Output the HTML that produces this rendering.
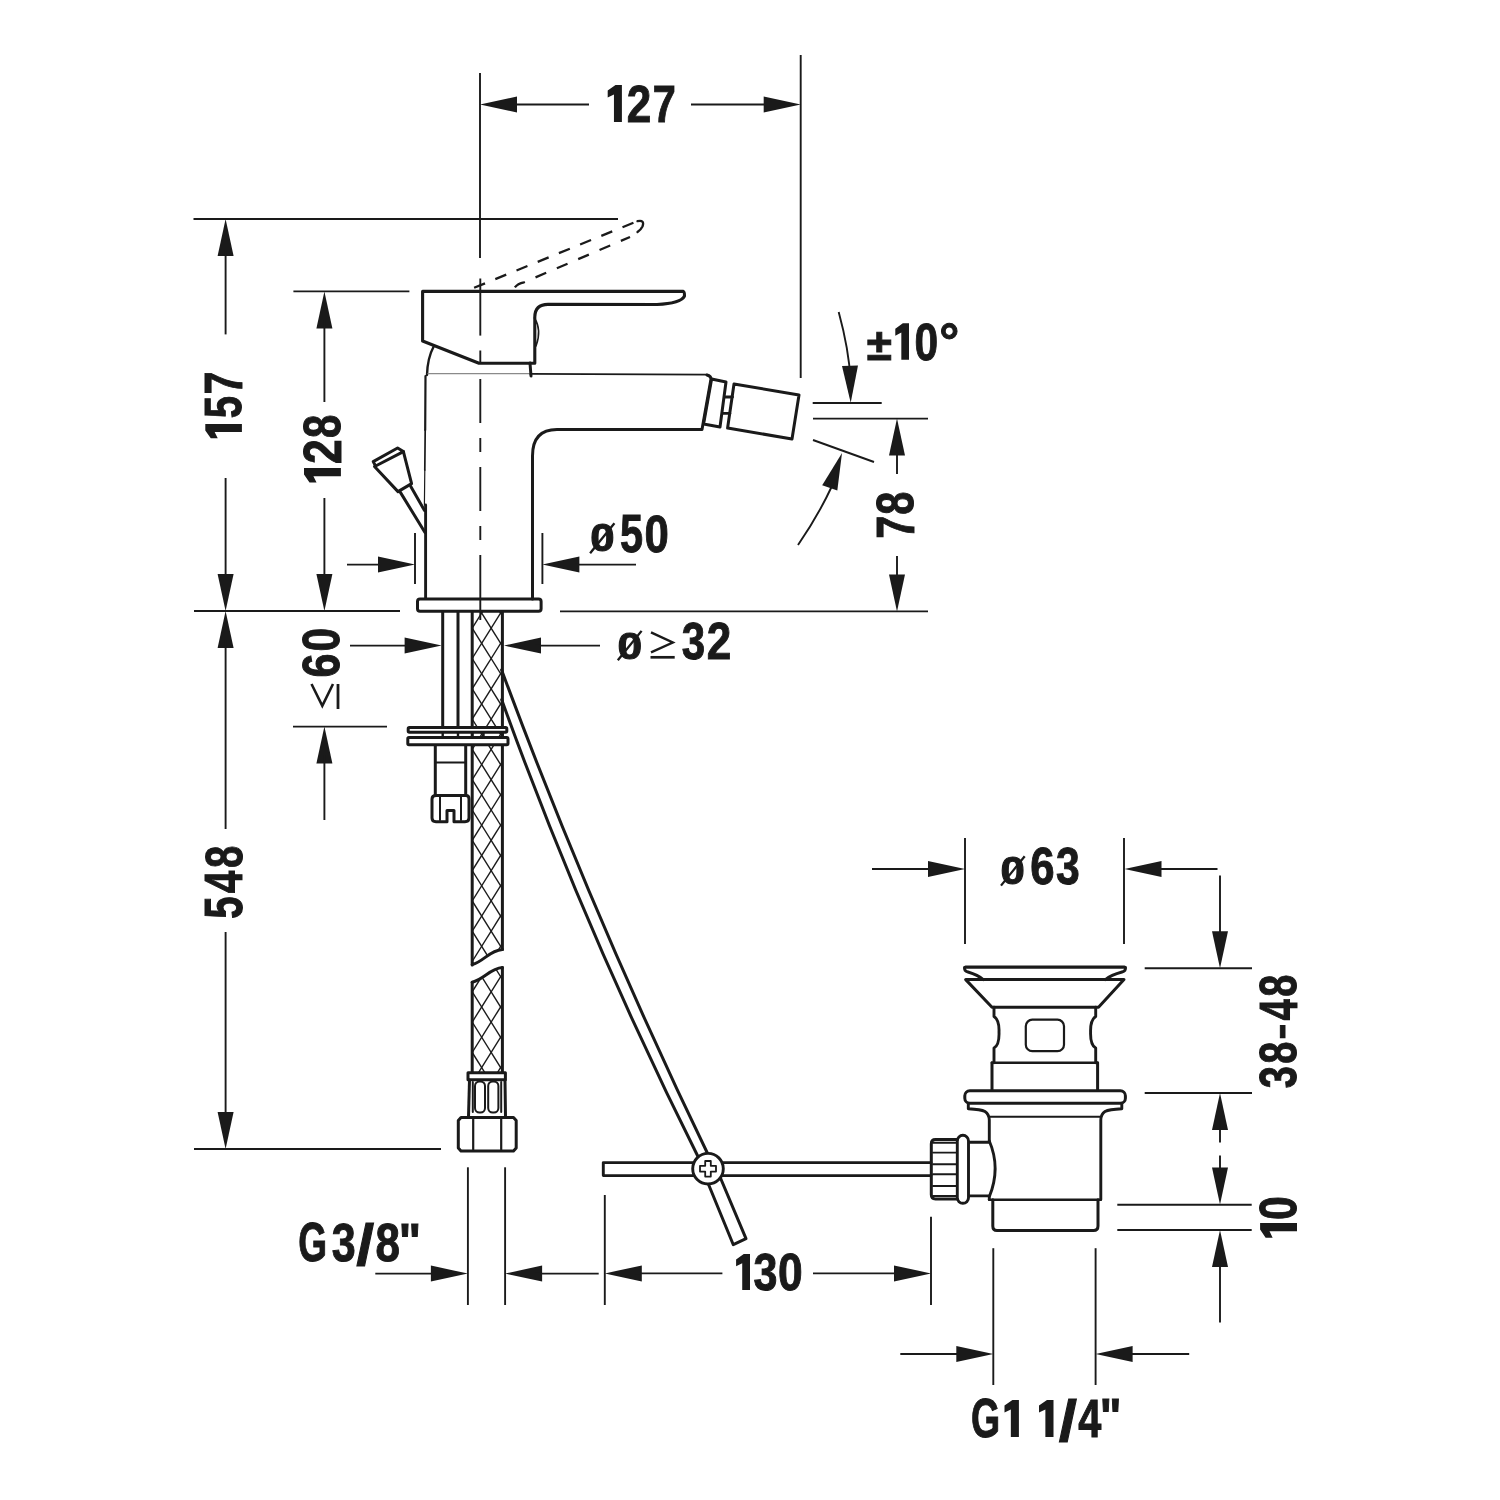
<!DOCTYPE html>
<html><head><meta charset="utf-8"><style>
html,body{margin:0;padding:0;background:#fff;}
svg{display:block;}
text{font-family:"Liberation Sans",sans-serif;font-weight:bold;fill:#1a1a1a;}
svg{will-change:transform;}
</style></head><body>
<svg width="1500" height="1500" viewBox="0 0 1500 1500">
<defs>
<clipPath id="hoseA"><path d="M472.2,612 L502.4,612 L502.4,949.5 C497,949 490,950 482,959.8 C478,963 474,964.6 472.2,964.6 Z"/></clipPath>
<clipPath id="hoseB"><path d="M472.2,982.3 C478,981 484,979 490,973 C495,969 499,967.6 502.4,967.6 L502.4,1072.5 L472.2,1072.5 Z"/></clipPath>
</defs>
<rect width="1500" height="1500" fill="#fff"/>
<g stroke="#1a1a1a" fill="none" stroke-linecap="butt">
<line x1="480.0" y1="73.0" x2="480.0" y2="258.0" stroke-width="1.9" />
<line x1="800.7" y1="55.0" x2="800.7" y2="378.0" stroke-width="1.9" />
<polygon points="480.0,104.5 517.0,96.5 517.0,112.5" fill="#1a1a1a" stroke="none"/>
<line x1="515.0" y1="104.5" x2="589.0" y2="104.5" stroke-width="1.9" />
<polygon points="800.7,104.5 763.7,112.5 763.7,96.5" fill="#1a1a1a" stroke="none"/>
<line x1="691.0" y1="104.5" x2="765.0" y2="104.5" stroke-width="1.9" />
<polygon points="613.95,121.90 621.90,121.90 621.90,85.10 615.51,85.10 607.70,90.62 607.70,97.61 613.95,94.48" fill="#1a1a1a" stroke="none"/>
<text transform="translate(626.68,121.90) scale(0.8431,1)" font-size="52.29">2</text>
<text transform="translate(652.74,121.90) scale(0.7886,1)" font-size="52.61">7</text>
<line x1="193.5" y1="219.0" x2="618.0" y2="219.0" stroke-width="1.9" />
<polygon points="225.6,219.0 233.6,256.0 217.6,256.0" fill="#1a1a1a" stroke="none"/>
<line x1="225.6" y1="250.0" x2="225.6" y2="334.4" stroke-width="1.9" />
<line x1="225.6" y1="478.0" x2="225.6" y2="580.0" stroke-width="1.9" />
<polygon points="225.6,611.0 217.6,574.0 233.6,574.0" fill="#1a1a1a" stroke="none"/>
<polygon points="241.90,431.96 241.90,423.90 205.30,423.90 205.30,430.38 210.79,438.30 217.74,438.30 214.63,431.96" fill="#1a1a1a" stroke="none"/>
<text transform="translate(241.38,418.20) rotate(-90) scale(0.7650,1)" font-size="52.29">5</text>
<text transform="translate(241.90,394.33) rotate(-90) scale(0.7701,1)" font-size="53.04">7</text>
<line x1="293.4" y1="291.4" x2="409.4" y2="291.4" stroke-width="1.9" />
<polygon points="324.4,291.4 332.4,328.4 316.4,328.4" fill="#1a1a1a" stroke="none"/>
<line x1="324.4" y1="320.0" x2="324.4" y2="402.0" stroke-width="1.9" />
<line x1="324.4" y1="498.0" x2="324.4" y2="580.0" stroke-width="1.9" />
<polygon points="324.4,611.0 316.4,574.0 332.4,574.0" fill="#1a1a1a" stroke="none"/>
<polygon points="340.90,476.22 340.90,468.10 304.00,468.10 304.00,474.62 309.53,482.60 316.55,482.60 313.41,476.22" fill="#1a1a1a" stroke="none"/>
<text transform="translate(340.90,463.93) rotate(-90) scale(0.8440,1)" font-size="52.71">2</text>
<text transform="translate(340.38,437.96) rotate(-90) scale(0.8081,1)" font-size="51.97">8</text>
<line x1="194.0" y1="611.0" x2="400.0" y2="611.0" stroke-width="1.9" />
<line x1="560.0" y1="611.4" x2="928.0" y2="611.4" stroke-width="1.9" />
<line x1="415.0" y1="533.0" x2="415.0" y2="584.0" stroke-width="1.9" />
<line x1="542.4" y1="533.0" x2="542.4" y2="584.0" stroke-width="1.9" />
<line x1="347.0" y1="564.6" x2="380.0" y2="564.6" stroke-width="1.9" />
<polygon points="415.0,564.6 378.0,572.6 378.0,556.6" fill="#1a1a1a" stroke="none"/>
<polygon points="542.4,564.6 579.4,556.6 579.4,572.6" fill="#1a1a1a" stroke="none"/>
<line x1="575.0" y1="564.6" x2="636.0" y2="564.6" stroke-width="1.9" />
<text transform="translate(590.15,551.42) scale(1.1505,1)" font-size="38.03">0</text>
<line x1="590.1" y1="553.3" x2="614.4" y2="523.3" stroke="#1a1a1a" stroke-width="2.3"/>
<text transform="translate(620.06,551.57) scale(0.7790,1)" font-size="53.14">5</text>
<text transform="translate(644.45,551.58) scale(0.8350,1)" font-size="52.39">0</text>
<path d="M838.7,312 Q849,350 850.5,380" stroke-width="1.9" fill="none" />
<polygon points="850.7,402.7 842.0,365.9 858.0,365.5" fill="#1a1a1a" stroke="none"/>
<line x1="812.7" y1="403.0" x2="881.7" y2="403.0" stroke-width="1.9" />
<line x1="813.0" y1="418.6" x2="928.0" y2="418.6" stroke-width="1.9" />
<line x1="813.0" y1="440.0" x2="874.0" y2="462.0" stroke-width="1.9" />
<path d="M798,545 Q818,516 832,486" stroke-width="1.9" fill="none" />
<polygon points="842.0,453.0 837.3,490.6 822.2,485.3" fill="#1a1a1a" stroke="none"/>
<text transform="translate(866.79,360.30) scale(1.0491,1)" font-size="43.55">±</text>
<polygon points="901.33,359.70 909.00,359.70 909.00,323.30 902.84,323.30 895.30,328.76 895.30,335.68 901.33,332.58" fill="#1a1a1a" stroke="none"/>
<text transform="translate(914.60,359.77) scale(0.8090,1)" font-size="52.54">0</text>
<text transform="translate(939.30,358.45) scale(0.9873,1)" font-size="50.65">°</text>
<polygon points="897.0,418.6 905.0,455.6 889.0,455.6" fill="#1a1a1a" stroke="none"/>
<line x1="897.0" y1="450.0" x2="897.0" y2="474.0" stroke-width="1.9" />
<line x1="897.0" y1="556.0" x2="897.0" y2="580.0" stroke-width="1.9" />
<polygon points="897.0,611.4 889.0,574.4 905.0,574.4" fill="#1a1a1a" stroke="none"/>
<text transform="translate(913.80,538.65) rotate(-90) scale(0.7739,1)" font-size="53.33">7</text>
<text transform="translate(913.28,514.85) rotate(-90) scale(0.8026,1)" font-size="51.83">8</text>
<line x1="350.0" y1="645.6" x2="410.0" y2="645.6" stroke-width="1.9" />
<polygon points="441.6,645.6 404.6,653.6 404.6,637.6" fill="#1a1a1a" stroke="none"/>
<polygon points="504.0,645.6 541.0,637.6 541.0,653.6" fill="#1a1a1a" stroke="none"/>
<line x1="535.0" y1="645.6" x2="600.0" y2="645.6" stroke-width="1.9" />
<text transform="translate(617.43,658.72) scale(1.1756,1)" font-size="37.75">0</text>
<line x1="617.8" y1="660.3" x2="641.6" y2="630.9" stroke="#1a1a1a" stroke-width="2.3"/>
<text transform="translate(681.76,658.68) scale(0.8016,1)" font-size="52.39">3</text>
<text transform="translate(706.68,658.60) scale(0.8431,1)" font-size="52.29">2</text>
<polyline points="651.0,632.3 672.8,642.5 651.0,652.3" stroke-width="2.4" fill="none" />
<line x1="650.5" y1="657.3" x2="674.7" y2="657.3" stroke-width="2.7" />
<text transform="translate(338.77,677.43) rotate(-90) scale(0.8209,1)" font-size="52.54">6</text>
<text transform="translate(338.77,651.40) rotate(-90) scale(0.8090,1)" font-size="52.54">0</text>
<polyline points="311.5,684.0 322.3,705.8 333.0,684.0" stroke-width="2.6" fill="none" />
<line x1="338.0" y1="684.0" x2="338.0" y2="709.0" stroke-width="2.8" />
<line x1="293.0" y1="726.6" x2="387.0" y2="726.6" stroke-width="1.9" />
<polygon points="324.4,726.6 332.4,763.6 316.4,763.6" fill="#1a1a1a" stroke="none"/>
<line x1="324.4" y1="755.0" x2="324.4" y2="820.0" stroke-width="1.9" />
<polygon points="225.6,611.0 233.6,648.0 217.6,648.0" fill="#1a1a1a" stroke="none"/>
<line x1="225.6" y1="640.0" x2="225.6" y2="829.0" stroke-width="1.9" />
<line x1="225.6" y1="932.0" x2="225.6" y2="1120.0" stroke-width="1.9" />
<polygon points="225.6,1149.0 217.6,1112.0 233.6,1112.0" fill="#1a1a1a" stroke="none"/>
<line x1="194.0" y1="1149.0" x2="441.0" y2="1149.0" stroke-width="1.9" />
<text transform="translate(241.77,918.81) rotate(-90) scale(0.7626,1)" font-size="52.71">5</text>
<text transform="translate(242.30,893.21) rotate(-90) scale(0.7586,1)" font-size="53.48">4</text>
<text transform="translate(241.78,867.91) rotate(-90) scale(0.7735,1)" font-size="51.97">8</text>
<line x1="467.9" y1="1167.3" x2="467.9" y2="1305.0" stroke-width="1.9" />
<line x1="505.1" y1="1167.3" x2="505.1" y2="1305.0" stroke-width="1.9" />
<line x1="375.3" y1="1273.6" x2="440.0" y2="1273.6" stroke-width="1.9" />
<polygon points="467.9,1273.6 430.9,1281.6 430.9,1265.6" fill="#1a1a1a" stroke="none"/>
<polygon points="505.1,1273.6 542.1,1265.6 542.1,1281.6" fill="#1a1a1a" stroke="none"/>
<line x1="535.0" y1="1273.6" x2="598.7" y2="1273.6" stroke-width="1.9" />
<text transform="translate(298.32,1261.05) scale(0.6747,1)" font-size="54.93">G</text>
<text transform="translate(331.64,1260.97) scale(0.8141,1)" font-size="52.82">3</text>
<text transform="translate(356.15,1264.85) scale(1.1251,1)" font-size="57.43">/</text>
<text transform="translate(375.48,1260.97) scale(0.8331,1)" font-size="52.82">8</text>
<text transform="translate(398.71,1258.78) scale(0.9337,1)" font-size="50.40">"</text>
<line x1="604.8" y1="1195.0" x2="604.8" y2="1305.0" stroke-width="1.9" />
<line x1="931.0" y1="1216.8" x2="931.0" y2="1305.0" stroke-width="1.9" />
<polygon points="604.8,1273.4 641.8,1265.4 641.8,1281.4" fill="#1a1a1a" stroke="none"/>
<line x1="635.0" y1="1273.4" x2="722.4" y2="1273.4" stroke-width="1.9" />
<line x1="813.0" y1="1273.4" x2="900.0" y2="1273.4" stroke-width="1.9" />
<polygon points="931.0,1273.4 894.0,1281.4 894.0,1265.4" fill="#1a1a1a" stroke="none"/>
<polygon points="742.22,1290.00 750.00,1290.00 750.00,1254.10 743.75,1254.10 736.10,1259.48 736.10,1266.31 742.22,1263.25" fill="#1a1a1a" stroke="none"/>
<text transform="translate(753.44,1290.08) scale(0.8296,1)" font-size="51.83">3</text>
<text transform="translate(778.12,1290.08) scale(0.8561,1)" font-size="51.83">0</text>
<line x1="965.0" y1="838.0" x2="965.0" y2="944.0" stroke-width="1.9" />
<line x1="1124.0" y1="838.0" x2="1124.0" y2="944.0" stroke-width="1.9" />
<line x1="872.0" y1="869.0" x2="935.0" y2="869.0" stroke-width="1.9" />
<polygon points="965.0,869.0 928.0,877.0 928.0,861.0" fill="#1a1a1a" stroke="none"/>
<polygon points="1124.5,869.0 1161.5,861.0 1161.5,877.0" fill="#1a1a1a" stroke="none"/>
<line x1="1155.0" y1="869.0" x2="1217.5" y2="869.0" stroke-width="1.9" />
<text transform="translate(1000.45,884.02) scale(1.1505,1)" font-size="38.03">0</text>
<line x1="1001" y1="885.6" x2="1024.7" y2="856.2" stroke="#1a1a1a" stroke-width="2.3"/>
<text transform="translate(1030.15,884.18) scale(0.8350,1)" font-size="52.39">6</text>
<text transform="translate(1055.95,884.18) scale(0.8131,1)" font-size="52.39">3</text>
<line x1="1220.0" y1="875.5" x2="1220.0" y2="940.0" stroke-width="1.9" />
<polygon points="1220.0,968.2 1212.0,931.2 1228.0,931.2" fill="#1a1a1a" stroke="none"/>
<line x1="1144.7" y1="968.2" x2="1252.0" y2="968.2" stroke-width="1.9" />
<line x1="1144.7" y1="1093.0" x2="1252.0" y2="1093.0" stroke-width="1.9" />
<polygon points="1220.0,1093.0 1228.0,1130.0 1212.0,1130.0" fill="#1a1a1a" stroke="none"/>
<line x1="1220.0" y1="1120.0" x2="1220.0" y2="1142.4" stroke-width="1.9" />
<line x1="1220.0" y1="1155.4" x2="1220.0" y2="1175.0" stroke-width="1.9" />
<polygon points="1220.0,1204.5 1212.0,1167.5 1228.0,1167.5" fill="#1a1a1a" stroke="none"/>
<text transform="translate(1296.48,1088.30) rotate(-90) scale(0.7679,1)" font-size="51.83">3</text>
<text transform="translate(1296.48,1063.69) rotate(-90) scale(0.7679,1)" font-size="51.83">8</text>
<text transform="translate(1292.53,1039.40) rotate(-90) scale(1.2153,1)" font-size="39.17">-</text>
<text transform="translate(1297.00,1020.47) rotate(-90) scale(0.7182,1)" font-size="53.33">4</text>
<text transform="translate(1296.48,996.69) rotate(-90) scale(0.7679,1)" font-size="51.83">8</text>
<line x1="1117.3" y1="1204.8" x2="1251.7" y2="1204.8" stroke-width="1.9" />
<line x1="1117.3" y1="1230.0" x2="1251.7" y2="1230.0" stroke-width="1.9" />
<polygon points="1220.0,1230.0 1228.0,1267.0 1212.0,1267.0" fill="#1a1a1a" stroke="none"/>
<line x1="1220.0" y1="1260.0" x2="1220.0" y2="1322.6" stroke-width="1.9" />
<polygon points="1297.00,1231.23 1297.00,1223.00 1260.10,1223.00 1260.10,1229.62 1265.63,1237.70 1272.65,1237.70 1269.51,1231.23" fill="#1a1a1a" stroke="none"/>
<text transform="translate(1296.48,1220.11) rotate(-90) scale(0.8218,1)" font-size="51.97">0</text>
<line x1="993.3" y1="1248.2" x2="993.3" y2="1385.0" stroke-width="1.9" />
<line x1="1095.6" y1="1248.2" x2="1095.6" y2="1385.0" stroke-width="1.9" />
<line x1="900.3" y1="1354.0" x2="960.0" y2="1354.0" stroke-width="1.9" />
<polygon points="993.3,1354.0 956.3,1362.0 956.3,1346.0" fill="#1a1a1a" stroke="none"/>
<polygon points="1095.6,1354.0 1132.6,1346.0 1132.6,1362.0" fill="#1a1a1a" stroke="none"/>
<line x1="1130.0" y1="1354.0" x2="1189.2" y2="1354.0" stroke-width="1.9" />
<text transform="translate(971.00,1437.25) scale(0.6775,1)" font-size="55.35">G</text>
<polygon points="1010.84,1437.00 1018.90,1437.00 1018.90,1400.00 1012.42,1400.00 1004.50,1405.55 1004.50,1412.58 1010.84,1409.43" fill="#1a1a1a" stroke="none"/>
<polygon points="1045.38,1437.00 1053.50,1437.00 1053.50,1400.00 1046.97,1400.00 1039.00,1405.55 1039.00,1412.58 1045.38,1409.43" fill="#1a1a1a" stroke="none"/>
<text transform="translate(1058.74,1440.55) scale(1.1398,1)" font-size="57.70">/</text>
<text transform="translate(1078.17,1437.00) scale(0.7741,1)" font-size="53.62">4</text>
<text transform="translate(1099.79,1434.22) scale(0.9250,1)" font-size="49.60">"</text>
<line x1="480.3" y1="278.5" x2="480.3" y2="335.6" stroke-width="1.9" />
<line x1="480.3" y1="350.5" x2="480.3" y2="363.3" stroke-width="1.9" />
<line x1="480.3" y1="379.0" x2="480.3" y2="423.0" stroke-width="1.9" />
<line x1="480.3" y1="438.0" x2="480.3" y2="452.0" stroke-width="1.9" />
<line x1="480.3" y1="467.0" x2="480.3" y2="511.0" stroke-width="1.9" />
<line x1="480.3" y1="526.0" x2="480.3" y2="540.0" stroke-width="1.9" />
<line x1="480.3" y1="555.0" x2="480.3" y2="620.0" stroke-width="1.9" />
</g>
<g stroke="#1a1a1a" stroke-width="1.4" clip-path="url(#hoseA)">
<line x1="472.2" y1="507.0" x2="502.4" y2="555.3"/>
<line x1="472.2" y1="507.0" x2="502.4" y2="458.7"/>
<line x1="472.2" y1="537.3" x2="502.4" y2="585.6"/>
<line x1="472.2" y1="537.3" x2="502.4" y2="489.0"/>
<line x1="472.2" y1="567.6" x2="502.4" y2="615.9"/>
<line x1="472.2" y1="567.6" x2="502.4" y2="519.3"/>
<line x1="472.2" y1="597.9" x2="502.4" y2="646.2"/>
<line x1="472.2" y1="597.9" x2="502.4" y2="549.6"/>
<line x1="472.2" y1="628.2" x2="502.4" y2="676.5"/>
<line x1="472.2" y1="628.2" x2="502.4" y2="579.9"/>
<line x1="472.2" y1="658.5" x2="502.4" y2="706.8"/>
<line x1="472.2" y1="658.5" x2="502.4" y2="610.2"/>
<line x1="472.2" y1="688.8" x2="502.4" y2="737.1"/>
<line x1="472.2" y1="688.8" x2="502.4" y2="640.5"/>
<line x1="472.2" y1="719.1" x2="502.4" y2="767.4"/>
<line x1="472.2" y1="719.1" x2="502.4" y2="670.8"/>
<line x1="472.2" y1="749.4" x2="502.4" y2="797.7"/>
<line x1="472.2" y1="749.4" x2="502.4" y2="701.1"/>
<line x1="472.2" y1="779.7" x2="502.4" y2="828.0"/>
<line x1="472.2" y1="779.7" x2="502.4" y2="731.4"/>
<line x1="472.2" y1="810.0" x2="502.4" y2="858.3"/>
<line x1="472.2" y1="810.0" x2="502.4" y2="761.7"/>
<line x1="472.2" y1="840.3" x2="502.4" y2="888.6"/>
<line x1="472.2" y1="840.3" x2="502.4" y2="792.0"/>
<line x1="472.2" y1="870.6" x2="502.4" y2="918.9"/>
<line x1="472.2" y1="870.6" x2="502.4" y2="822.3"/>
<line x1="472.2" y1="900.9" x2="502.4" y2="949.2"/>
<line x1="472.2" y1="900.9" x2="502.4" y2="852.6"/>
<line x1="472.2" y1="931.2" x2="502.4" y2="979.5"/>
<line x1="472.2" y1="931.2" x2="502.4" y2="882.9"/>
<line x1="472.2" y1="961.5" x2="502.4" y2="1009.8"/>
<line x1="472.2" y1="961.5" x2="502.4" y2="913.2"/>
<line x1="472.2" y1="991.8" x2="502.4" y2="1040.1"/>
<line x1="472.2" y1="991.8" x2="502.4" y2="943.5"/>
<line x1="472.2" y1="1022.1" x2="502.4" y2="1070.4"/>
<line x1="472.2" y1="1022.1" x2="502.4" y2="973.8"/>
<line x1="472.2" y1="1052.4" x2="502.4" y2="1100.7"/>
<line x1="472.2" y1="1052.4" x2="502.4" y2="1004.1"/>
<line x1="472.2" y1="1082.7" x2="502.4" y2="1131.0"/>
<line x1="472.2" y1="1082.7" x2="502.4" y2="1034.4"/>
<line x1="472.2" y1="1113.0" x2="502.4" y2="1161.3"/>
<line x1="472.2" y1="1113.0" x2="502.4" y2="1064.7"/>
<line x1="472.2" y1="1143.3" x2="502.4" y2="1191.6"/>
<line x1="472.2" y1="1143.3" x2="502.4" y2="1095.0"/>
</g>
<g stroke="#1a1a1a" stroke-width="1.4" clip-path="url(#hoseB)">
<line x1="472.2" y1="507.0" x2="502.4" y2="555.3"/>
<line x1="472.2" y1="507.0" x2="502.4" y2="458.7"/>
<line x1="472.2" y1="537.3" x2="502.4" y2="585.6"/>
<line x1="472.2" y1="537.3" x2="502.4" y2="489.0"/>
<line x1="472.2" y1="567.6" x2="502.4" y2="615.9"/>
<line x1="472.2" y1="567.6" x2="502.4" y2="519.3"/>
<line x1="472.2" y1="597.9" x2="502.4" y2="646.2"/>
<line x1="472.2" y1="597.9" x2="502.4" y2="549.6"/>
<line x1="472.2" y1="628.2" x2="502.4" y2="676.5"/>
<line x1="472.2" y1="628.2" x2="502.4" y2="579.9"/>
<line x1="472.2" y1="658.5" x2="502.4" y2="706.8"/>
<line x1="472.2" y1="658.5" x2="502.4" y2="610.2"/>
<line x1="472.2" y1="688.8" x2="502.4" y2="737.1"/>
<line x1="472.2" y1="688.8" x2="502.4" y2="640.5"/>
<line x1="472.2" y1="719.1" x2="502.4" y2="767.4"/>
<line x1="472.2" y1="719.1" x2="502.4" y2="670.8"/>
<line x1="472.2" y1="749.4" x2="502.4" y2="797.7"/>
<line x1="472.2" y1="749.4" x2="502.4" y2="701.1"/>
<line x1="472.2" y1="779.7" x2="502.4" y2="828.0"/>
<line x1="472.2" y1="779.7" x2="502.4" y2="731.4"/>
<line x1="472.2" y1="810.0" x2="502.4" y2="858.3"/>
<line x1="472.2" y1="810.0" x2="502.4" y2="761.7"/>
<line x1="472.2" y1="840.3" x2="502.4" y2="888.6"/>
<line x1="472.2" y1="840.3" x2="502.4" y2="792.0"/>
<line x1="472.2" y1="870.6" x2="502.4" y2="918.9"/>
<line x1="472.2" y1="870.6" x2="502.4" y2="822.3"/>
<line x1="472.2" y1="900.9" x2="502.4" y2="949.2"/>
<line x1="472.2" y1="900.9" x2="502.4" y2="852.6"/>
<line x1="472.2" y1="931.2" x2="502.4" y2="979.5"/>
<line x1="472.2" y1="931.2" x2="502.4" y2="882.9"/>
<line x1="472.2" y1="961.5" x2="502.4" y2="1009.8"/>
<line x1="472.2" y1="961.5" x2="502.4" y2="913.2"/>
<line x1="472.2" y1="991.8" x2="502.4" y2="1040.1"/>
<line x1="472.2" y1="991.8" x2="502.4" y2="943.5"/>
<line x1="472.2" y1="1022.1" x2="502.4" y2="1070.4"/>
<line x1="472.2" y1="1022.1" x2="502.4" y2="973.8"/>
<line x1="472.2" y1="1052.4" x2="502.4" y2="1100.7"/>
<line x1="472.2" y1="1052.4" x2="502.4" y2="1004.1"/>
<line x1="472.2" y1="1082.7" x2="502.4" y2="1131.0"/>
<line x1="472.2" y1="1082.7" x2="502.4" y2="1034.4"/>
<line x1="472.2" y1="1113.0" x2="502.4" y2="1161.3"/>
<line x1="472.2" y1="1113.0" x2="502.4" y2="1064.7"/>
<line x1="472.2" y1="1143.3" x2="502.4" y2="1191.6"/>
<line x1="472.2" y1="1143.3" x2="502.4" y2="1095.0"/>
</g>
<g stroke="#1a1a1a" fill="none" stroke-linejoin="round" stroke-linecap="round">
<path d="M422.6,291.4 L683.3,291.4 Q684.7,292 684.4,296.3 Q680.5,303.6 657,304.5 L548,304.4 Q535,304.4 534.8,317 L534.8,363.3 L479,363.3 L422.6,341 Z" stroke-width="3.1" fill="none" />
<path d="M534.4,318 Q542,330 536,346" stroke-width="1.6" fill="none" />
<path d="M637.5,221.2 Q645,219.5 642.5,226.5 Q641,229.5 637.5,232" stroke-width="2.3" fill="none" />
<path d="M468,290.3 L636,221.7" stroke-width="2.3" fill="none" stroke-dasharray="11.8,11.1" stroke-dashoffset="16.3" stroke-linecap="butt"/>
<path d="M513.3,291 Q515,284 524,282.3 L630,237" stroke-width="2.3" fill="none" stroke-dasharray="11.6,11.6" stroke-dashoffset="19.4" stroke-linecap="butt"/>
<path d="M433.8,346.3 Q427.5,358 427,375" stroke-width="2.4" fill="none" />
<line x1="425.5" y1="376.0" x2="425.2" y2="430.0" stroke-width="2.2" />
<line x1="425.2" y1="430.0" x2="424.8" y2="470.0" stroke-width="1.7" />
<line x1="424.8" y1="470.0" x2="424.4" y2="505.0" stroke-width="1.2" />
<line x1="425.6" y1="505.0" x2="425.6" y2="598.0" stroke-width="2.9" />
<line x1="530.0" y1="363.0" x2="531.0" y2="376.0" stroke-width="3.0" />
<line x1="428.0" y1="373.6" x2="530.0" y2="373.6" stroke-width="1.3" stroke="#8a8a8a"/>
<line x1="530.0" y1="373.8" x2="707.0" y2="374.6" stroke-width="1.8" />
<path d="M707,375 Q711,376 711,379 L702,429.6 L557,429.6 Q532.5,429.6 532.5,456 L532.5,599" stroke-width="3.0" fill="none" />
<polygon points="711.6,379.0 726.0,382.0 720.0,427.0 703.6,424.0" stroke-width="3.0" fill="none" />
<line x1="725.5" y1="397.0" x2="732.5" y2="397.0" stroke-width="2.9" />
<line x1="722.8" y1="413.4" x2="729.8" y2="413.4" stroke-width="2.9" />
<polygon points="734.0,384.0 799.0,395.0 792.0,439.0 727.6,428.0" stroke-width="3.0" fill="none" />
<rect x="417.5" y="598.9" width="123.6" height="12.3" rx="2.5" stroke-width="3" fill="none"/>
<line x1="442.7" y1="612.0" x2="442.7" y2="727.0" stroke-width="3.0" />
<line x1="458.0" y1="612.0" x2="458.0" y2="727.0" stroke-width="3.0" />
<line x1="472.2" y1="612.0" x2="472.2" y2="965.0" stroke-width="3.0" />
<line x1="502.4" y1="612.0" x2="502.4" y2="949.5" stroke-width="3.0" />
<rect x="408.2" y="727.6" width="98.6" height="4.6" rx="1.2" stroke-width="3.0" fill="#fff"/>
<rect x="407.8" y="737.6" width="100.2" height="7.2" rx="1.2" stroke-width="3.0" fill="#fff"/>
<line x1="442.7" y1="733.0" x2="442.7" y2="737.0" stroke-width="2.4" />
<line x1="458.0" y1="733.0" x2="458.0" y2="737.0" stroke-width="2.4" />
<line x1="472.2" y1="733.0" x2="472.2" y2="737.0" stroke-width="2.4" />
<line x1="483.5" y1="733.0" x2="483.5" y2="737.0" stroke-width="2.4" />
<line x1="502.4" y1="733.0" x2="502.4" y2="737.0" stroke-width="2.4" />
<line x1="435.3" y1="746.0" x2="435.3" y2="795.0" stroke-width="3.0" />
<line x1="465.7" y1="746.0" x2="465.7" y2="795.0" stroke-width="3.0" />
<line x1="435.3" y1="762.5" x2="465.7" y2="762.5" stroke-width="2.2" />
<path d="M432,799 Q432,795.5 436,795.5 L466,795.5 Q469,795.5 469,799 L469,818 Q469,821.7 465,821.7 L454,821.7 L454,810.5 L447,810.5 L447,821.7 L436,821.7 Q432,821.7 432,818 Z" stroke-width="3.0" fill="none" />
<line x1="440.0" y1="797.0" x2="440.0" y2="820.0" stroke-width="2" />
<line x1="461.0" y1="797.0" x2="461.0" y2="820.0" stroke-width="2" />
<polygon points="373.2,461.6 397.6,448.0 403.4,451.6 375.6,466.0" stroke-width="3.0" fill="none" />
<polyline points="374.5,466.5 398.0,491.6 411.6,483.6 403.4,451.6" stroke-width="3.0" fill="none" />
<line x1="400.4" y1="492.4" x2="425.0" y2="532.5" stroke-width="3.0" />
<line x1="410.8" y1="486.4" x2="424.5" y2="510.5" stroke-width="3.0" />
<path d="M472.2,964.6 C484,961.5 489,950.5 502.4,949.5" stroke-width="3.0" fill="none" />
<path d="M472.2,982.3 C484,979.5 490,968.5 502.4,967.6" stroke-width="3.0" fill="none" />
<line x1="472.2" y1="982.3" x2="472.2" y2="1072.5" stroke-width="3.0" />
<line x1="502.4" y1="967.6" x2="502.4" y2="1072.5" stroke-width="3.0" />
<rect x="468" y="1072.7" width="37.4" height="7" stroke-width="3.0" fill="none"/>
<line x1="469.5" y1="1080.0" x2="468.5" y2="1117.0" stroke-width="3.0" />
<line x1="505.0" y1="1080.0" x2="505.5" y2="1117.0" stroke-width="3.0" />
<rect x="475" y="1081.5" width="10" height="31" rx="4.5" stroke-width="2" fill="none"/>
<rect x="488.2" y="1081.5" width="10.2" height="31" rx="4.5" stroke-width="2" fill="none"/>
<line x1="472.8" y1="1082.0" x2="472.8" y2="1112.0" stroke-width="2" />
<line x1="501.2" y1="1082.0" x2="501.2" y2="1112.0" stroke-width="2" />
<polygon points="461.0,1117.5 513.5,1117.5 516.2,1120.5 516.2,1148.0 513.5,1151.0 461.0,1151.0 458.3,1148.0 458.3,1120.5" stroke-width="3.0" fill="none" />
<line x1="473.2" y1="1119.0" x2="473.2" y2="1149.5" stroke-width="2.2" />
<line x1="501.2" y1="1119.0" x2="501.2" y2="1149.5" stroke-width="2.2" />
<path d="M501.7,699.7 Q586.0,933.9 703.6,1168.0" stroke-width="3.0" fill="none" />
<path d="M501.6,669.9 Q592.7,916.5 712.1,1163.0" stroke-width="3.0" fill="none" />
<polyline points="702.2,1169.0 733.3,1244.7 746.0,1238.7 715.0,1165.0" stroke-width="3.0" fill="none" />
<polyline points="931.0,1162.6 603.3,1162.6 603.3,1175.6 931.0,1175.6" stroke-width="2.9" fill="none" />
<circle cx="708" cy="1168.7" r="15.3" stroke-width="2.9" fill="#fff"/>
<path d="M705.2,1161 L710.8,1161 L710.8,1165.8 L716,1165.8 L716,1171.6 L710.8,1171.6 L710.8,1176.6 L705.2,1176.6 L705.2,1171.6 L700,1171.6 L700,1165.8 L705.2,1165.8 Z" stroke-width="1.8" fill="none" />
<line x1="965.5" y1="967.2" x2="1124.5" y2="967.2" stroke-width="3.2" />
<path d="M964.5,967.5 Q964,971 968,972 Q978,975 983.3,979.6" stroke-width="2.9" fill="none" />
<path d="M1125.5,967.5 Q1126,971 1122,972 Q1111,975 1105.3,979.6" stroke-width="2.9" fill="none" />
<polygon points="965.7,979.6 1124.0,979.6 1098.5,1007.2 992.0,1007.2" stroke-width="3.0" fill="none" />
<path d="M994,1007.2 L994,1016.5 Q999.5,1020 999,1032 Q999.5,1045 994,1048 L994,1062.8" stroke-width="2.9" fill="none" />
<path d="M1095.7,1007.2 L1095.7,1016.5 Q1090.2,1020 1090.6,1032 Q1090.2,1045 1095.7,1048 L1095.7,1062.8" stroke-width="2.9" fill="none" />
<rect x="1025.8" y="1019.7" width="38.2" height="31.5" rx="6.5" stroke-width="2.2" fill="none"/>
<line x1="991.8" y1="1062.8" x2="1097.6" y2="1062.8" stroke-width="2.4" />
<line x1="992.0" y1="1062.8" x2="992.0" y2="1091.0" stroke-width="3.0" />
<line x1="1097.6" y1="1062.8" x2="1097.6" y2="1091.0" stroke-width="3.0" />
<rect x="964.8" y="1090.8" width="160.6" height="12.4" rx="5" stroke-width="3.0" fill="white"/>
<path d="M968.3,1103.5 L968.3,1108.8 Q981,1109.5 985,1111.5 Q989,1114 989.3,1120 L989.3,1141" stroke-width="2.9" fill="none" />
<path d="M1121.8,1103.5 L1121.8,1108.8 Q1109,1109.5 1105,1111.5 Q1101,1114 1100.8,1120 L1100.8,1199.5" stroke-width="2.9" fill="none" />
<line x1="989.3" y1="1116.8" x2="1100.8" y2="1116.8" stroke-width="2.0" />
<path d="M989.3,1141 Q1001,1168 989.3,1196.8 L989.3,1199.5" stroke-width="2.9" fill="none" />
<line x1="989.0" y1="1199.8" x2="1100.8" y2="1199.8" stroke-width="2.4" />
<path d="M992.8,1199.8 L992.8,1226 Q992.8,1230.5 997,1230.5 L1093.5,1230.5 Q1098,1230.5 1098,1226 L1098,1199.8" stroke-width="3.0" fill="none" />
<line x1="968.5" y1="1142.2" x2="989.3" y2="1142.2" stroke-width="2.9" />
<line x1="968.5" y1="1195.9" x2="989.3" y2="1195.9" stroke-width="2.9" />
<rect x="957.3" y="1135.3" width="11.2" height="68" rx="5.6" stroke-width="2.9" fill="white"/>
<path d="M957.3,1139.6 L935.5,1139.6 Q931.3,1139.6 931.3,1144 L931.3,1194.6 Q931.3,1199 935.5,1199 L957.3,1199" stroke-width="3.0" fill="none" />
<line x1="933.0" y1="1142.8" x2="957.0" y2="1142.8" stroke-width="1.9" />
<line x1="933.0" y1="1152.6" x2="957.0" y2="1152.6" stroke-width="1.9" />
<line x1="933.0" y1="1164.3" x2="957.0" y2="1164.3" stroke-width="1.9" />
<line x1="933.0" y1="1174.3" x2="957.0" y2="1174.3" stroke-width="1.9" />
<line x1="933.0" y1="1186.0" x2="957.0" y2="1186.0" stroke-width="1.9" />
<line x1="933.0" y1="1196.0" x2="957.0" y2="1196.0" stroke-width="1.9" />
</g>
</svg>
</body></html>
